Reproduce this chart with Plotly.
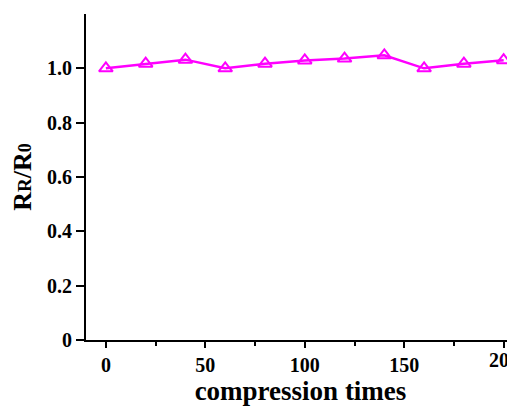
import plotly.graph_objects as go

compression_times = [0, 20, 40, 60, 80, 100, 120, 140, 160, 180, 200]
ratio = [1.0, 1.017, 1.032, 1.0, 1.017, 1.029, 1.036, 1.048, 1.0, 1.017, 1.03]

x_tickvals = [0, 50, 100, 150, 200]
x_minor_tickvals = [25, 75, 125, 175]
y_tickvals = [0, 0.2, 0.4, 0.6, 0.8, 1.0]
y_ticktext = ["0", "0.2", "0.4", "0.6", "0.8", "1.0"]

font_family = "Liberation Serif, Times New Roman, serif"

fig = go.Figure()
fig.add_trace(go.Scatter(
    x=compression_times, y=ratio, mode="lines+markers",
    line=dict(color="#FF00FF", width=2.5),
    marker=dict(symbol="triangle-up-open", size=12, color="#FF00FF", line=dict(width=2, color="#FF00FF")),
))

# page body has an 8px default margin, so the figure is sized/offset to compensate
fig.update_layout(
    width=507, height=399,
    margin=dict(l=78, r=0, t=6, b=67, autoexpand=False),
    paper_bgcolor="white", plot_bgcolor="white",
    showlegend=False,
    font=dict(family=font_family, color="black"),
)
fig.update_xaxes(
    range=[-10, 205.7], showline=True, linecolor="black", linewidth=2,
    showgrid=False, zeroline=False, automargin=False,
    tickmode="array", tickvals=x_tickvals,
    ticks="outside", ticklen=6, tickwidth=2, tickcolor="black",
    minor=dict(tickmode="array", tickvals=x_minor_tickvals, ticks="outside", ticklen=4, tickwidth=2, tickcolor="black"),
    tickfont=dict(size=20, family=font_family, weight="bold"),
    title=dict(text="<b>compression times</b>", font=dict(size=27, family=font_family), standoff=4),
)
fig.update_yaxes(
    range=[0, 1.2], showline=True, linecolor="black", linewidth=2,
    showgrid=False, zeroline=False, automargin=False,
    tickmode="array", tickvals=y_tickvals, ticktext=y_ticktext,
    ticks="outside", ticklen=8, tickwidth=2, tickcolor="black",
    tickfont=dict(size=20, family=font_family, weight="bold"),
    title=dict(text="<b>R<span style='font-size:19px'>R</span>/R<span style='font-size:18px'>0</span></b>",
               font=dict(size=26, family=font_family), standoff=12),
)

# last tick label at the figure's right edge (plotly drops it as a tick label)
fig.add_annotation(
    x=x_tickvals[-1], y=0, xref="x", yref="paper", yanchor="top", xanchor="center",
    yshift=-7, text="<b>%d</b>" % x_tickvals[-1], showarrow=False,
    font=dict(size=20, family=font_family, color="black"),
)

fig.write_html("out.html")
